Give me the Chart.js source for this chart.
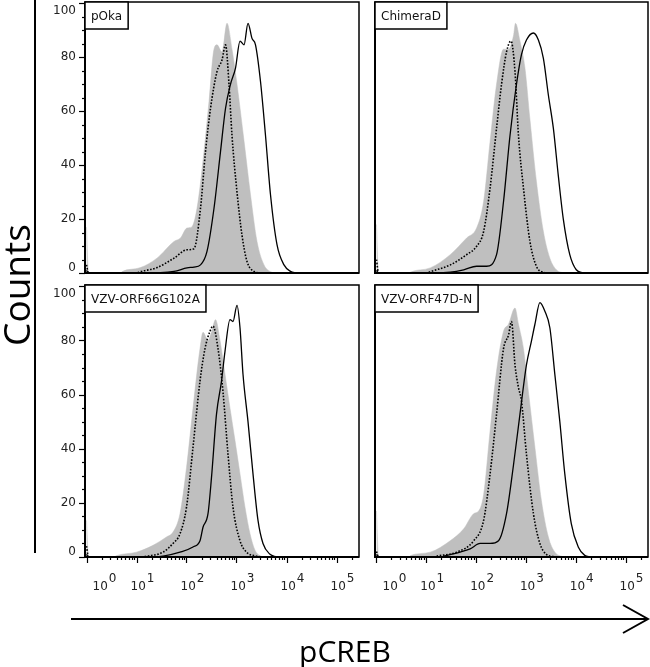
<!DOCTYPE html>
<html>
<head>
<meta charset="utf-8">
<script src="https://cdn.jsdelivr.net/npm/chart.js@4.4.1/dist/chart.umd.min.js"></script>
<style>
  body { margin: 0; background: #fff; }
  #page { position: relative; width: 650px; height: 667px; overflow: hidden; background: #fff; }
  #page canvas { position: absolute; left: 0; top: 0; }
  .vline { position: absolute; left: 34px; top: 0; width: 2px; height: 553px; background: #000; }
  .counts {
    position: absolute; left: 15px; top: 285px;
    transform: translate(-50%, -50%) rotate(-90deg);
    font: 37px "Open Sans", sans-serif; color: #000; white-space: nowrap;
  }
  .pcreb {
    position: absolute; left: 345px; top: 650px;
    transform: translate(-50%, -50%);
    font: 30px "Open Sans", sans-serif; color: #000; white-space: nowrap;
  }
  #arrow { position: absolute; left: 0; top: 0; }
</style>
</head>
<body>
<div id="page">
  <canvas id="c0" width="650" height="667"></canvas>
  <canvas id="c1" width="650" height="667"></canvas>
  <canvas id="c2" width="650" height="667"></canvas>
  <canvas id="c3" width="650" height="667"></canvas>
  <div class="vline"></div>
  <div class="counts">Counts</div>
  <svg id="arrow" width="650" height="667">
    <line x1="71" y1="619" x2="647" y2="619" stroke="#000" stroke-width="2"/>
    <polyline points="623,605 648,619 623,633" fill="none" stroke="#000" stroke-width="2"/>
  </svg>
  <div class="pcreb">pCREB</div>
</div>
<script>
// panel titles
const panelNames = ["pOka", "ChimeraD", "VZV-ORF66G102A", "VZV-ORF47D-N"];
const yTicks = [0, 20, 40, 60, 80, 100];
const xPowers = [0, 1, 2, 3, 4, 5];

// [log10 intensity, counts]
const pOkaFilled = [[0,17],[0.04,0],[0.68,0],[0.71,0.5],[1.08,2],[1.41,5.5],[1.75,11.7],[1.88,13],[2.01,16.7],[2.1,17],[2.21,24],[2.35,45],[2.45,63.6],[2.55,83],[2.61,84.6],[2.71,82],[2.81,92.6],[2.91,83],[3.01,70],[3.15,49],[3.28,29],[3.41,11.7],[3.55,3],[3.68,0.5],[3.75,0]];
const pOkaDotted = [[0,3],[0.04,0],[1.0,0],[1.08,0.5],[1.41,2],[1.75,5.5],[2.01,8.6],[2.15,9],[2.28,24],[2.38,45],[2.48,61],[2.61,74.7],[2.71,79],[2.78,84.6],[2.85,70],[2.91,51],[3.01,30],[3.11,14],[3.21,4.3],[3.35,0.6],[3.48,0]];
const pOkaSolid = [[0,1],[0.04,0],[1.1,0],[1.75,0.6],[2.01,1.9],[2.15,2.2],[2.28,3],[2.41,8],[2.55,24],[2.68,45],[2.78,61],[2.88,70],[2.98,76],[3.07,86],[3.15,84.6],[3.23,92.6],[3.31,87],[3.38,84.6],[3.48,71],[3.58,51],[3.68,29],[3.81,10.5],[3.95,3],[4.08,0.6],[4.2,0]];

const chimeraFilled = [[0,18],[0.04,0],[0.66,0],[0.68,0.3],[1.08,1.9],[1.48,6.8],[1.81,13],[2.01,16.7],[2.15,26.5],[2.28,48.8],[2.41,70],[2.55,83],[2.65,83],[2.75,88],[2.79,92.6],[2.88,86],[2.98,76],[3.08,57],[3.21,34],[3.35,15.4],[3.48,5.5],[3.61,1.2],[3.75,0]];
const chimeraDotted = [[0,5],[0.04,0],[1.0,0],[1.08,0.5],[1.48,3],[1.81,6.8],[2.01,9.9],[2.15,15.4],[2.28,31.5],[2.41,53.7],[2.51,70],[2.61,82],[2.7,86],[2.78,74.7],[2.85,51],[2.95,31.5],[3.08,11.7],[3.21,2.5],[3.35,0.3],[3.48,0]];
const chimeraSolid = [[0,1],[0.04,0],[1.2,0],[1.48,0.3],[1.75,1.2],[2.01,2.5],[2.21,2.5],[2.41,6.8],[2.55,26.5],[2.68,51],[2.81,70],[2.91,81],[3.01,86.4],[3.15,89],[3.25,86.4],[3.35,79.6],[3.45,66],[3.55,53.7],[3.65,36],[3.75,20],[3.88,6.8],[4.01,1.2],[4.15,0]];

const orf66Filled = [[0,13.5],[0.04,0],[0.55,0],[0.6,0.5],[1.0,1.8],[1.33,4.3],[1.6,7.4],[1.73,9.2],[1.87,16],[2.0,33],[2.13,55],[2.27,77],[2.33,83],[2.43,80],[2.5,83],[2.58,87.7],[2.67,80],[2.77,67.5],[2.87,55],[2.97,43],[3.07,30.7],[3.17,18.4],[3.27,8.6],[3.37,2.5],[3.47,0.5],[3.6,0]];
const orf66Dotted = [[0,4],[0.04,0],[1.1,0],[1.2,0.3],[1.53,1.8],[1.73,5],[1.87,8.6],[2.0,18.4],[2.13,40.5],[2.27,65],[2.37,77],[2.47,83.4],[2.53,85.3],[2.63,77],[2.73,61],[2.83,38],[2.93,18.4],[3.07,6],[3.2,1.8],[3.4,0.3],[3.5,0]];
const orf66Solid = [[0,1],[0.04,0],[1.4,0],[1.53,0.3],[1.87,1.8],[2.13,3.7],[2.27,6],[2.33,11],[2.43,16],[2.5,29.4],[2.6,52.8],[2.7,65],[2.77,76],[2.87,87.7],[2.93,87],[3.01,93],[3.07,84.7],[3.13,67.5],[3.23,50],[3.33,30.7],[3.43,13.5],[3.53,5],[3.67,1],[3.8,0]];

const orf47Filled = [[0,17],[0.04,0],[0.65,0],[0.68,0.5],[1.08,1.8],[1.48,6],[1.75,10.4],[1.95,16],[2.05,17],[2.15,23],[2.28,46.6],[2.41,68.7],[2.55,83.4],[2.65,86],[2.78,92],[2.85,86],[2.95,77],[3.05,61],[3.18,40.5],[3.31,20.9],[3.45,7.4],[3.58,1.8],[3.75,0]];
const orf47Dotted = [[0,2],[0.04,0],[1.15,0],[1.21,0.3],[1.61,1.8],[1.95,6],[2.15,13.5],[2.28,30.7],[2.41,52.8],[2.55,77],[2.65,82],[2.71,87],[2.78,71],[2.85,62.6],[2.91,57.7],[3.01,38],[3.15,16],[3.28,5],[3.41,1],[3.6,0]];
const orf47Solid = [[0,1],[0.04,0],[1.3,0],[1.35,0.3],[1.68,1.8],[1.88,3],[2.08,5],[2.28,5],[2.45,6],[2.61,16],[2.75,34],[2.88,52.8],[3.01,71],[3.11,79.8],[3.18,86],[3.28,94],[3.38,90.8],[3.48,84.7],[3.58,67.5],[3.68,50],[3.78,30.7],[3.91,12.3],[4.05,3.7],[4.18,0.6],[4.3,0]];

const filledSeries = [pOkaFilled, chimeraFilled, orf66Filled, orf47Filled];
const dottedSeries = [pOkaDotted, chimeraDotted, orf66Dotted, orf47Dotted];
const solidSeries = [pOkaSolid, chimeraSolid, orf66Solid, orf47Solid];

// panel rectangles on the page: left, top, right, bottom
const boxes = [
  [85, 2, 359, 273],
  [375, 2, 648, 273],
  [85, 285, 359, 557],
  [375, 285, 648, 557]
];

const FONT = '12px "DejaVu Sans", sans-serif';

function toPoints(pairs) {
  return pairs.map(p => ({ x: Math.pow(10, p[0]), y: p[1] }));
}

const panelAxes = {
  id: 'panelAxes',
  afterDraw(chart, args, opts) {
    const ctx = chart.ctx;
    const a = chart.chartArea;
    const xs = chart.scales.x;
    const ys = chart.scales.y;
    ctx.save();
    ctx.strokeStyle = '#000';
    ctx.font = FONT;

    if (opts.yAxis) {
      ctx.lineWidth = 1.2;
      for (let v = 0; v <= 100; v += 5) {
        const y = Math.round(ys.getPixelForValue(v)) + 0.5;
        const len = v % 20 === 0 ? 6 : 3;
        ctx.beginPath();
        ctx.moveTo(a.left - len, y);
        ctx.lineTo(a.left, y);
        ctx.stroke();
      }
      ctx.fillStyle = '#222';
      ctx.textAlign = 'right';
      ctx.textBaseline = 'middle';
      yTicks.forEach(v => {
        let y = ys.getPixelForValue(v);
        if (v === 100) y += 8;
        if (v === 0) y -= 5;
        ctx.fillText(String(v), a.left - 9, y);
      });
    }

    if (opts.xAxis) {
      ctx.lineWidth = 1.2;
      xPowers.forEach(p => {
        for (let m = 1; m <= 9; m++) {
          const v = m * Math.pow(10, p);
          if (v < xs.min || v > xs.max) continue;
          const x = Math.round(xs.getPixelForValue(v)) + 0.5;
          const len = m === 1 ? 6 : 3;
          ctx.beginPath();
          ctx.moveTo(x, a.bottom);
          ctx.lineTo(x, a.bottom + len);
          ctx.stroke();
        }
      });
      ctx.fillStyle = '#222';
      ctx.textAlign = 'left';
      ctx.textBaseline = 'alphabetic';
      const w10 = ctx.measureText('10').width;
      xPowers.forEach(p => {
        const px = xs.getPixelForValue(Math.pow(10, p));
        const x0 = p === 0 ? px + 6 : px - 6;
        ctx.fillText('10', x0, a.bottom + 33);
        ctx.fillText(String(p), x0 + w10 + 1, a.bottom + 25);
      });
    }

    // frame
    ctx.lineWidth = 1.5;
    ctx.strokeRect(a.left, a.top, a.right - a.left, a.bottom - a.top);
    ctx.lineWidth = 2;
    ctx.beginPath();
    ctx.moveTo(a.left, a.top);
    ctx.lineTo(a.left, a.bottom);
    ctx.lineTo(a.right, a.bottom);
    ctx.stroke();

    // name box
    ctx.font = FONT;
    const w = ctx.measureText(opts.title).width + 12;
    const h = 27;
    ctx.fillStyle = '#fff';
    ctx.fillRect(a.left, a.top, w, h);
    ctx.lineWidth = 1.5;
    ctx.strokeRect(a.left, a.top, w, h);
    ctx.fillStyle = '#111';
    ctx.textAlign = 'left';
    ctx.textBaseline = 'middle';
    ctx.fillText(opts.title, a.left + 6, a.top + h / 2 + 1);
    ctx.restore();
  }
};

panelNames.forEach((name, i) => {
  const b = boxes[i];
  const ctx = document.getElementById('c' + i).getContext('2d');
  new Chart(ctx, {
    type: 'line',
    data: {
      datasets: [
        {
          label: 'solid',
          data: toPoints(solidSeries[i]),
          borderColor: '#000',
          borderWidth: 1.3,
          fill: false,
          pointRadius: 0,
          cubicInterpolationMode: 'monotone'
        },
        {
          label: 'dotted',
          data: toPoints(dottedSeries[i]),
          borderColor: '#000',
          borderWidth: 1.6,
          borderDash: [1.6, 1.6],
          fill: false,
          pointRadius: 0,
          cubicInterpolationMode: 'monotone'
        },
        {
          label: 'filled',
          data: toPoints(filledSeries[i]),
          borderColor: '#bfbfbf',
          backgroundColor: '#bfbfbf',
          borderWidth: 0.5,
          fill: 'origin',
          pointRadius: 0,
          cubicInterpolationMode: 'monotone'
        }
      ]
    },
    options: {
      responsive: false,
      animation: false,
      events: [],
      layout: { padding: { left: b[0], top: b[1], right: 650 - b[2], bottom: 667 - b[3] } },
      scales: {
        x: { type: 'logarithmic', min: Math.pow(10, -0.03), max: Math.pow(10, 5.45), display: false },
        y: { type: 'linear', min: 0, max: 100.5, display: false }
      },
      plugins: {
        legend: { display: false },
        tooltip: { enabled: false },
        panelAxes: { title: name, yAxis: i % 2 === 0, xAxis: i >= 2 }
      }
    },
    plugins: [panelAxes]
  });
});
</script>
</body>
</html>
